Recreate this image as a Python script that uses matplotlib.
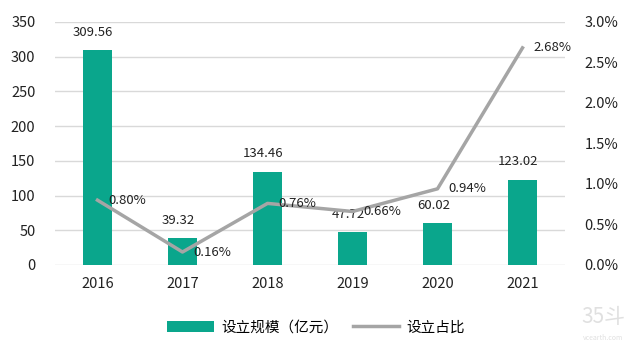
import matplotlib.pyplot as plt

plt.rcParams['font.family'] = ['Noto Sans CJK SC', 'DejaVu Sans']

years = ['2016', '2017', '2018', '2019', '2020', '2021']
scale = [309.56, 39.32, 134.46, 47.72, 60.02, 123.02]
ratio = [0.80, 0.16, 0.76, 0.66, 0.94, 2.68]

bar_color = '#0AA68C'
line_color = '#A5A5A5'

fig = plt.figure(figsize=(6.32, 3.6), dpi=100)
ax = fig.add_axes([0.087, 0.264, 0.807, 0.675])
ax2 = ax.twinx()

x = list(range(len(years)))
bars = ax.bar(x, scale, width=0.33, color=bar_color, label='设立规模（亿元）', zorder=2)
line, = ax2.plot(x, ratio, color=line_color, linewidth=2.5, label='设立占比', zorder=3)

ax.set_ylim(0, 350)
ax.set_yticks(range(0, 351, 50))
ax2.set_ylim(0, 3.0)
ax2.set_yticks([i * 0.5 for i in range(7)])
ax2.set_yticklabels(['%.1f%%' % (i * 0.5) for i in range(7)])
ax.set_xlim(-0.5, len(years) - 0.5)
ax.set_xticks(x)
ax.set_xticklabels(years)

ax.grid(axis='y', color='#D9D9D9', linewidth=1, zorder=0)
for a in (ax, ax2):
    for s in a.spines.values():
        s.set_visible(False)
    a.tick_params(length=0, labelsize=10.5, colors='#222222')
ax.tick_params(axis='y', pad=14)
ax.tick_params(axis='x', pad=9)
ax2.tick_params(axis='y', pad=14)

for i, v in enumerate(scale):
    ax.annotate('%.2f' % v, (i, v), xytext=(-3, 8), textcoords='offset points',
                ha='center', va='bottom', fontsize=9.5, color='#222222')
for i, v in enumerate(ratio):
    ax2.annotate('%.2f%%' % v, (i, v), xytext=(8, 0), textcoords='offset points',
                 ha='left', va='center', fontsize=9.5, color='#222222', zorder=5)

fig.legend(handles=[bars, line], loc='center', bbox_to_anchor=(0.5, 0.09), ncol=2,
           frameon=False, fontsize=10.5, handlelength=3.2, columnspacing=1.0,
           handletextpad=0.5)

fig.text(0.955, 0.12, '35斗', fontsize=15, color='#E0E0E0', ha='center', va='center')
fig.text(0.955, 0.06, 'vcearth.com', fontsize=5, color='#E0E0E0', ha='center', va='center')

fig.savefig('out.png', dpi=100)
